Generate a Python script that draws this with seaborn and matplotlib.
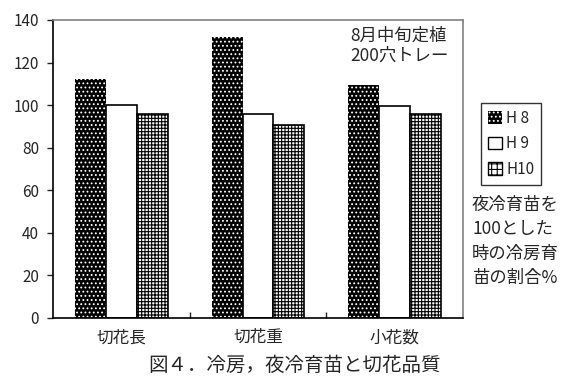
import matplotlib
matplotlib.use("Agg")
import matplotlib.pyplot as plt
import seaborn as sns
import pandas as pd
from matplotlib.patches import Patch

sns.set_style("ticks")
plt.rcParams['font.family'] = ['Noto Sans CJK JP', 'DejaVu Sans']
plt.rcParams['hatch.linewidth'] = 0.8

categories = ["切花長", "切花重", "小花数"]
series = ["H 8", "H 9", "H10"]
h8 = [112.5, 132, 109.5]
h9 = [100, 96, 99.5]
h10 = [96, 90.5, 96]
y_ticks = [0, 20, 40, 60, 80, 100, 120, 140]

rows = []
for s, vals in zip(series, [h8, h9, h10]):
    for c, v in zip(categories, vals):
        rows.append({"cat": c, "series": s, "value": v})
df = pd.DataFrame(rows)

fig = plt.figure(figsize=(5.62, 3.91), dpi=100)
ax = fig.add_axes([53/562, 1-318/391, (463-53)/562, (318-20)/391])

sns.barplot(data=df, x="cat", y="value", hue="series", order=categories,
            hue_order=series, palette=["black", "white", "white"],
            width=0.68, gap=0, saturation=1, edgecolor="black", linewidth=1.2,
            legend=False, ax=ax, errorbar=None)

styles = {
    0: dict(face="black", edge="white", hatch="....", lw=0),
    1: dict(face="white", edge="black", hatch="", lw=1.2),
    2: dict(face="white", edge="black", hatch="+++++", lw=1.2),
}
for i, cont in enumerate(ax.containers):
    st = styles[i]
    for p in cont:
        p.set_facecolor(st["face"])
        p.set_edgecolor(st["edge"])
        p.set_hatch(st["hatch"])
        p.set_linewidth(st["lw"])

ax.set_ylim(0, 140)
ax.set_xlim(-0.5, 2.5)
ax.set_yticks(y_ticks)
ax.set_yticklabels([str(t) for t in y_ticks], fontsize=11)
ax.set_xticks(range(len(categories)))
ax.set_xticklabels(categories, fontsize=12)
ax.tick_params(axis="x", length=0, pad=8)
ax.set_xticks([0.5, 1.5], minor=True)
ax.tick_params(axis="x", which="minor", direction="in", length=4, width=1)
ax.tick_params(axis="y", direction="out", length=4, width=1, pad=6)
ax.set_xlabel("")
ax.set_ylabel("")
for side in ["top", "right"]:
    ax.spines[side].set_color("#808080")
    ax.spines[side].set_linewidth(1.2)
for side in ["left", "bottom"]:
    ax.spines[side].set_color("black")
    ax.spines[side].set_linewidth(1.2)

fig.text(350/562, 1-27/391, "8月中旬定植\n200穴トレー",
         fontsize=12.5, va="top", ha="left", linespacing=1.15)

handles = [
    Patch(facecolor="black", edgecolor="white", hatch="....", linewidth=0),
    Patch(facecolor="white", edgecolor="black", linewidth=1),
    Patch(facecolor="white", edgecolor="black", hatch="+++", linewidth=1),
]
leg = fig.legend(handles, series, loc="upper left",
                 bbox_to_anchor=(481/562, 1-103/391), frameon=True,
                 fancybox=False, edgecolor="black", fontsize=11,
                 handlelength=0.9, handleheight=0.9, handletextpad=0.3,
                 labelspacing=0.55, borderpad=0.45, borderaxespad=0)
leg.get_frame().set_linewidth(1.0)

fig.text(472/562, 1-196/391, "夜冷育苗を\n100とした\n時の冷房育\n苗の割合%",
         fontsize=12.5, va="top", ha="left", linespacing=1.45)

fig.text(295/562, 1-365/391, "図４．冷房，夜冷育苗と切花品質",
         fontsize=14, va="center", ha="center")

fig.savefig("out.png", dpi=100)
